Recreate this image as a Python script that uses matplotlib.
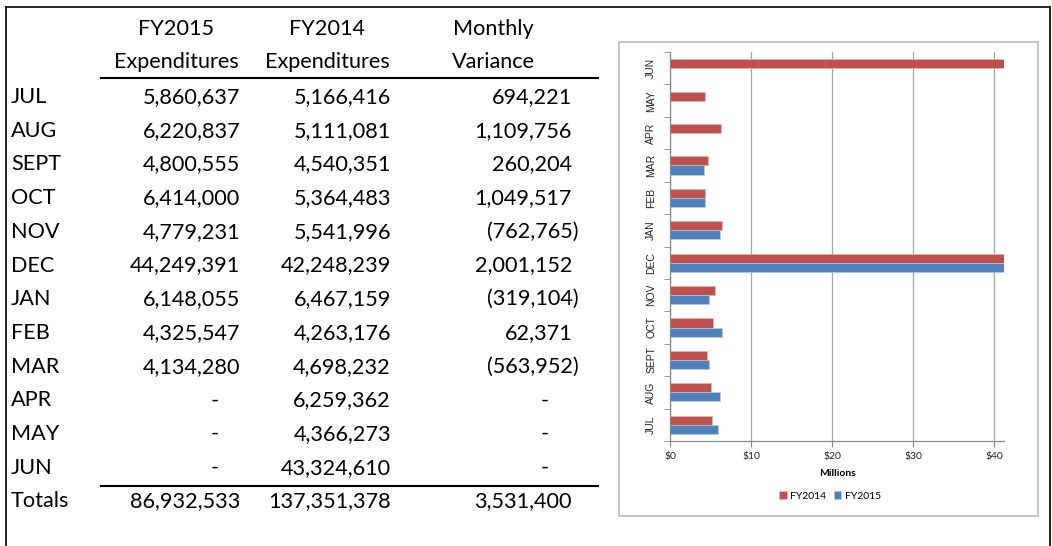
import matplotlib
matplotlib.use("Agg")
import matplotlib.pyplot as plt
from matplotlib.patches import Rectangle
from matplotlib.lines import Line2D
import numpy as np

months = ["JUL", "AUG", "SEPT", "OCT", "NOV", "DEC", "JAN", "FEB", "MAR", "APR", "MAY", "JUN"]
fy2015 = [5860637, 6220837, 4800555, 6414000, 4779231, 44249391, 6148055, 4325547, 4134280, None, None, None]
fy2014 = [5166416, 5111081, 4540351, 5364483, 5541996, 42248239, 6467159, 4263176, 4698232, 6259362, 4366273, 43324610]
variance = [694221, 1109756, 260204, 1049517, -762765, 2001152, -319104, 62371, -563952, None, None, None]
totals = [86932533, 137351378, 3531400]
headers = [("FY2015", "Expenditures"), ("FY2014", "Expenditures"), ("Monthly", "Variance")]
x_ticks = [0, 10, 20, 30, 40]
x_tick_labels = ["$0", "$10", "$20", "$30", "$40"]

W, H = 1052, 546
fig = plt.figure(figsize=(W / 100, H / 100), dpi=100)
FONT = "Lato"

def fx(x):
    return x / W

def fy(y):
    return 1 - y / H

# outer border
fig.add_artist(Line2D([fx(6), fx(6)], [fy(7), fy(546)], color="black", lw=1.2))
fig.add_artist(Line2D([fx(6), fx(1050)], [fy(7), fy(7)], color="black", lw=1.2))
fig.add_artist(Line2D([fx(1050), fx(1050)], [fy(7), fy(546)], color="black", lw=1.2))

# ---------------- table ----------------
fs = 15.6
head_cx = [176, 327, 493]
for cx, (l1, l2) in zip(head_cx, headers):
    fig.text(fx(cx), fy(29), l1, ha="center", va="center", fontsize=fs, family=FONT)
    fig.text(fx(cx), fy(62), l2, ha="center", va="center", fontsize=fs, family=FONT)
fig.add_artist(Line2D([fx(101), fx(598)], [fy(78), fy(78)], color="black", lw=1.5))
fig.add_artist(Line2D([fx(101), fx(598)], [fy(486), fy(486)], color="black", lw=1.5))

col_right = [240, 391, 572]
dash_x = [215, None, 545]
row_y0, row_dy = 97, 33.7

def fmt(v, col):
    if v is None:
        return "-", dash_x[col], "center"
    if v < 0:
        return "({:,})".format(-v), col_right[col] + 7, "right"
    return "{:,}".format(v), col_right[col], "right"

for i, m in enumerate(months):
    y = row_y0 + i * row_dy
    fig.text(fx(11), fy(y), m, ha="left", va="center", fontsize=fs, family=FONT)
    for col, vals in enumerate([fy2015, fy2014, variance]):
        s, x, ha = fmt(vals[i], col)
        fig.text(fx(x), fy(y), s, ha=ha, va="center", fontsize=fs, family=FONT)
ty = row_y0 + 12 * row_dy
fig.text(fx(11), fy(ty), "Totals", ha="left", va="center", fontsize=fs, family=FONT)
for col, v in enumerate(totals):
    s, x, ha = fmt(v, col)
    fig.text(fx(x), fy(ty), s, ha=ha, va="center", fontsize=fs, family=FONT)

# ---------------- chart ----------------
fig.add_artist(Rectangle((fx(619), fy(516)), fx(1038) - fx(619), fy(42) - fy(516),
                         fill=False, edgecolor="#BFBFBF", lw=1.3))

ax = fig.add_axes([fx(670), fy(441), fx(1004) - fx(670), fy(52) - fy(441)])
red = "#C0504D"
blue = "#4F81BD"
ypos = np.arange(len(months))
bh = 0.28
v14 = [v / 1e6 for v in fy2014]
v15 = [(v / 1e6 if v is not None else 0) for v in fy2015]
ax.barh(ypos + bh / 2, v14, height=bh, color=red, edgecolor="#E6B9B8", lw=0.4, label="FY2014")
ax.barh(ypos - bh / 2, v15, height=bh, color=blue, edgecolor="#B9CDE5", lw=0.4, label="FY2015")
ax.set_xlim(0, 41.2)
ax.set_ylim(-0.5, len(months) - 0.5)
ax.set_xticks(x_ticks)
ax.set_xticklabels(x_tick_labels, fontsize=7.5, family=FONT, color="#222222")
ax.set_yticks(ypos)
ax.set_yticklabels(months, rotation=90, fontsize=7.5, family="Liberation Sans", color="#222222",
                   va="center")
ax.set_yticks(np.arange(-0.5, len(months), 1), minor=True)
ax.tick_params(axis="y", which="major", length=0, pad=10)
ax.tick_params(axis="y", which="minor", length=4, color="#888888", direction="out")
ax.tick_params(axis="x", which="major", length=4, color="#888888", direction="out", pad=4)
ax.grid(axis="x", color="#A6A6A6", lw=0.9)
ax.set_axisbelow(True)
for s in ["top", "right"]:
    ax.spines[s].set_visible(False)
for s in ["left", "bottom"]:
    ax.spines[s].set_color("#888888")
    ax.spines[s].set_linewidth(0.9)
ax.set_xlabel("Millions", fontsize=7.5, family=FONT, fontweight="bold", labelpad=6)

handles, labels = ax.get_legend_handles_labels()
fig.legend(handles, labels, loc="center", bbox_to_anchor=(fx(830), fy(496)), ncol=2,
           frameon=False, prop={"family": FONT, "size": 7.5}, handlelength=0.7, handleheight=0.7,
           handletextpad=0.3, columnspacing=0.8)

fig.savefig("out.png", dpi=100)
